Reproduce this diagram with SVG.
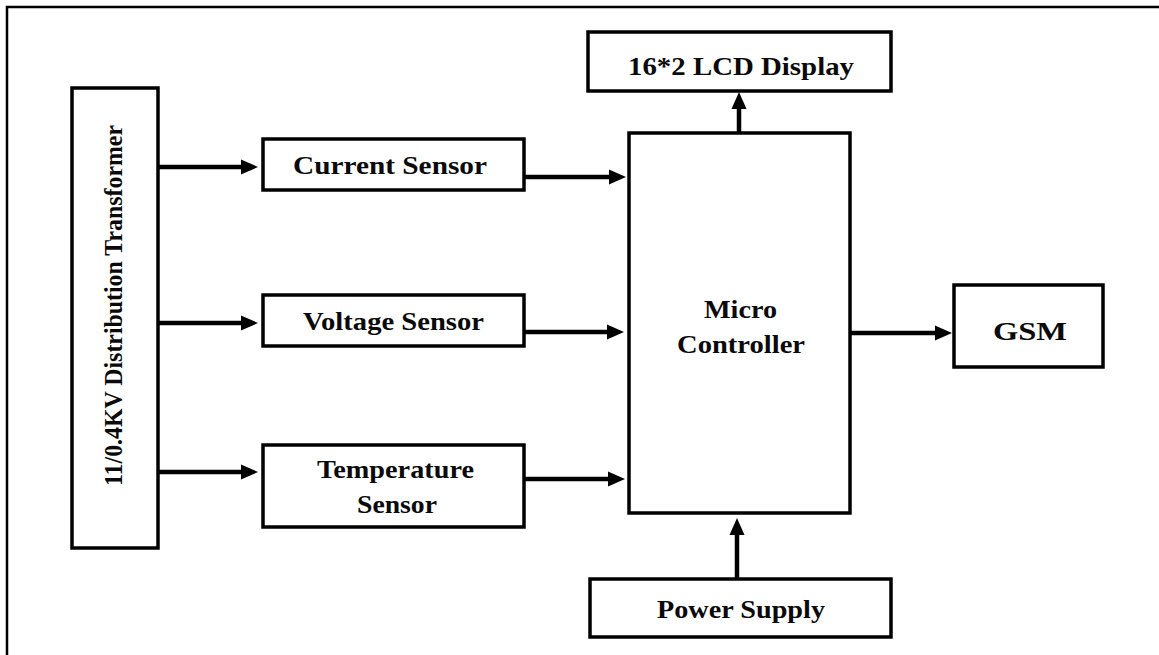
<svg xmlns="http://www.w3.org/2000/svg" width="1159" height="655" viewBox="0 0 1159 655">
<style>
.box{fill:#fff;stroke:#000;stroke-width:3.5}
.lbl{font-family:"Liberation Serif",Tinos,"Times New Roman",Times,serif;font-weight:700;font-size:25px;fill:#0a0a0a}
.con{stroke:#000;stroke-width:4.5;fill:none}
.frame{stroke:#000;stroke-width:2.5;fill:none}
</style>
<defs>
<marker id="ah" markerUnits="userSpaceOnUse" markerWidth="18" markerHeight="16" viewBox="0 0 18 16" refX="2" refY="8" orient="auto">
<path d="M0,0.5 L17,8 L0,15.5 z" fill="#000"/>
</marker>
</defs>
<rect width="1159" height="655" fill="#fff"/>
<path class="frame" d="M7,655 V7 H1159"/>
<g id="transformer">
<rect class="box" x="72" y="88" width="86" height="460"/>
<text class="lbl" transform="translate(122,486) rotate(-90)" font-size="23" textLength="361" lengthAdjust="spacingAndGlyphs">11/0.4KV Distribution Transformer</text>
</g>
<g id="current">
<rect class="box" x="263" y="139" width="261" height="51"/>
<text class="lbl" x="293" y="174" textLength="194" lengthAdjust="spacingAndGlyphs">Current Sensor</text>
</g>
<g id="voltage">
<rect class="box" x="263" y="295" width="261" height="51"/>
<text class="lbl" x="303" y="330" textLength="181" lengthAdjust="spacingAndGlyphs">Voltage Sensor</text>
</g>
<g id="temperature">
<rect class="box" x="263" y="445" width="261" height="82"/>
<text class="lbl" x="317" y="478" textLength="157" lengthAdjust="spacingAndGlyphs">Temperature</text>
<text class="lbl" x="357" y="513" textLength="80" lengthAdjust="spacingAndGlyphs">Sensor</text>
</g>
<g id="microcontroller">
<rect class="box" x="629" y="133" width="221" height="380"/>
<text class="lbl" x="704" y="318" font-size="24" textLength="73" lengthAdjust="spacingAndGlyphs">Micro</text>
<text class="lbl" x="677" y="353" font-size="24" textLength="128" lengthAdjust="spacingAndGlyphs">Controller</text>
</g>
<g id="lcd">
<rect class="box" x="588" y="32" width="303" height="59"/>
<text class="lbl" x="628" y="75" textLength="226" lengthAdjust="spacingAndGlyphs">16*2 LCD Display</text>
</g>
<g id="power">
<rect class="box" x="590" y="579" width="301" height="58"/>
<text class="lbl" x="657" y="618" textLength="168" lengthAdjust="spacingAndGlyphs">Power Supply</text>
</g>
<g id="gsm">
<rect class="box" x="954" y="285" width="149" height="82"/>
<text class="lbl" x="993" y="340" font-size="32" textLength="74" lengthAdjust="spacingAndGlyphs">GSM</text>
</g>
<g id="connectors">
<line class="con" x1="158" y1="167" x2="243" y2="167" marker-end="url(#ah)"/>
<line class="con" x1="158" y1="323" x2="243" y2="323" marker-end="url(#ah)"/>
<line class="con" x1="158" y1="472" x2="243" y2="472" marker-end="url(#ah)"/>
<line class="con" x1="524" y1="177" x2="611" y2="177" marker-end="url(#ah)"/>
<line class="con" x1="524" y1="332" x2="609" y2="332" marker-end="url(#ah)"/>
<line class="con" x1="524" y1="479" x2="610" y2="479" marker-end="url(#ah)"/>
<line class="con" x1="739" y1="133" x2="739" y2="107" marker-end="url(#ah)"/>
<line class="con" x1="737" y1="579" x2="737" y2="533" marker-end="url(#ah)"/>
<line class="con" x1="850" y1="333" x2="937" y2="333" marker-end="url(#ah)"/>
</g>
</svg>
